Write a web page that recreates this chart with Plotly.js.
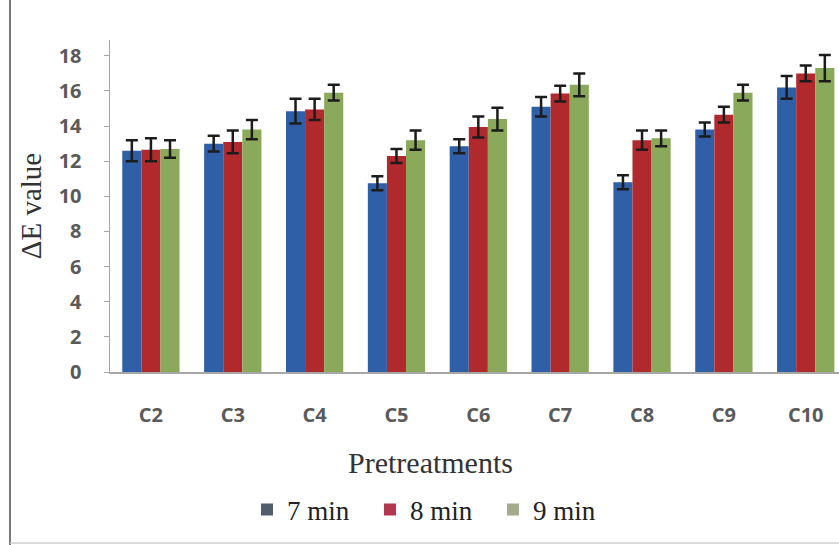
<!DOCTYPE html>
<html>
<head>
<meta charset="utf-8">
<script src="https://cdn.plot.ly/plotly-3.0.1.min.js"></script>
<style>
  html, body { margin: 0; padding: 0; background: #ffffff; overflow: hidden; }
  #chart { width: 839px; height: 545px; }
</style>
</head>
<body>
<div id="chart"></div>
<script>
// Pretreatment groups along the x axis
const categories = ['C2', 'C3', 'C4', 'C5', 'C6', 'C7', 'C8', 'C9', 'C10'];

// Mean ΔE per pretreatment for each treatment time
const min7 = [12.6, 13.0, 14.85, 10.75, 12.85, 15.1, 10.8, 13.8, 16.2];
const min8 = [12.65, 13.1, 14.95, 12.3, 13.95, 15.85, 13.2, 14.65, 17.0];
const min9 = [12.7, 13.8, 15.9, 13.2, 14.4, 16.35, 13.3, 15.9, 17.3];

// Error bar half-lengths
const err7 = [0.6, 0.45, 0.7, 0.4, 0.4, 0.55, 0.4, 0.4, 0.65];
const err8 = [0.65, 0.65, 0.6, 0.4, 0.6, 0.45, 0.55, 0.45, 0.45];
const err9 = [0.5, 0.55, 0.45, 0.55, 0.65, 0.65, 0.45, 0.45, 0.75];

const seriesNames = ['7 min', '8 min', '9 min'];
const yTicks = [0, 2, 4, 6, 8, 10, 12, 14, 16, 18];

const W = 839, H = 545;
const M = { l: 110, r: 0, t: 40, b: 173 };
const plotW = W - M.l - M.r;
const plotH = H - M.t - M.b;
const px2x = px => (px - M.l) / plotW;
const px2y = py => (H - M.b - py) / plotH;

const barColors = ['#2f5fa6', '#b0292c', '#8aa95b'];
const keyColors = ['#4f5d6d', '#b3374f', '#a4aa8c'];

function barTrace(name, values, errs, color) {
  return {
    type: 'bar',
    name: name,
    x: categories,
    y: values,
    showlegend: false,
    marker: { color: color, line: { width: 0 } },
    error_y: { type: 'data', array: errs, visible: true, color: '#1c1c1c', thickness: 2.5, width: 6 },
    hoverinfo: 'x+y'
  };
}

// Legend keys carry their own swatch colours
function keyTrace(name, color) {
  return {
    type: 'scatter',
    mode: 'markers',
    name: name,
    x: [null],
    y: [null],
    marker: { symbol: 'square', size: 12, color: color },
    hoverinfo: 'skip'
  };
}

const data = [
  barTrace(seriesNames[0], min7, err7, barColors[0]),
  barTrace(seriesNames[1], min8, err8, barColors[1]),
  barTrace(seriesNames[2], min9, err9, barColors[2]),
  keyTrace(seriesNames[0], keyColors[0]),
  keyTrace(seriesNames[1], keyColors[1]),
  keyTrace(seriesNames[2], keyColors[2])
];

const tickFont = { family: 'Open Sans', size: 20, color: '#5a5a5a', weight: 'bold' };
const serif = 'Liberation Serif';

const layout = {
  width: W,
  height: H,
  margin: M,
  paper_bgcolor: '#ffffff',
  plot_bgcolor: '#ffffff',
  barmode: 'group',
  bargap: 0.3,
  bargroupgap: 0,
  showlegend: true,
  xaxis: {
    type: 'category',
    range: [-0.5, -0.5 + plotW / 81.85],
    showline: true,
    linecolor: '#a6a6a6',
    linewidth: 1.5,
    ticks: '',
    showgrid: false,
    zeroline: false,
    tickfont: tickFont,
    ticklabelstandoff: 24,
    fixedrange: true
  },
  yaxis: {
    range: [0, 18.9],
    tickvals: yTicks,
    ticktext: yTicks.map(String),
    showline: true,
    linecolor: '#a6a6a6',
    linewidth: 1.5,
    ticks: 'outside',
    ticklen: 5,
    tickcolor: '#a6a6a6',
    showgrid: false,
    zeroline: false,
    tickfont: tickFont,
    ticklabelstandoff: 18,
    title: { text: 'ΔE value', font: { family: serif, size: 29, color: '#333333' }, standoff: 8 },
    fixedrange: true
  },
  legend: {
    orientation: 'h',
    x: px2x(247),
    xanchor: 'left',
    y: px2y(510),
    yanchor: 'middle',
    entrywidth: 78,
    entrywidthmode: 'pixels',
    font: { family: serif, size: 27, color: '#222222' },
    bgcolor: 'rgba(0,0,0,0)',
    itemclick: false,
    itemdoubleclick: false
  },
  annotations: [{
    text: 'Pretreatments',
    xref: 'paper', yref: 'paper',
    x: px2x(430), y: px2y(462),
    xanchor: 'center', yanchor: 'middle',
    showarrow: false,
    font: { family: serif, size: 30, color: '#333333' }
  }],
  shapes: [
    { type: 'line', xref: 'paper', yref: 'paper', x0: px2x(10), x1: px2x(10), y0: px2y(0), y1: px2y(545), line: { color: '#7a7a7a', width: 2 } },
    { type: 'line', xref: 'paper', yref: 'paper', x0: px2x(10), x1: px2x(839), y0: px2y(543), y1: px2y(543), line: { color: '#cfcfcf', width: 1.5 } }
  ]
};

Plotly.newPlot('chart', data, layout, { displayModeBar: false, staticPlot: true });
</script>
</body>
</html>
